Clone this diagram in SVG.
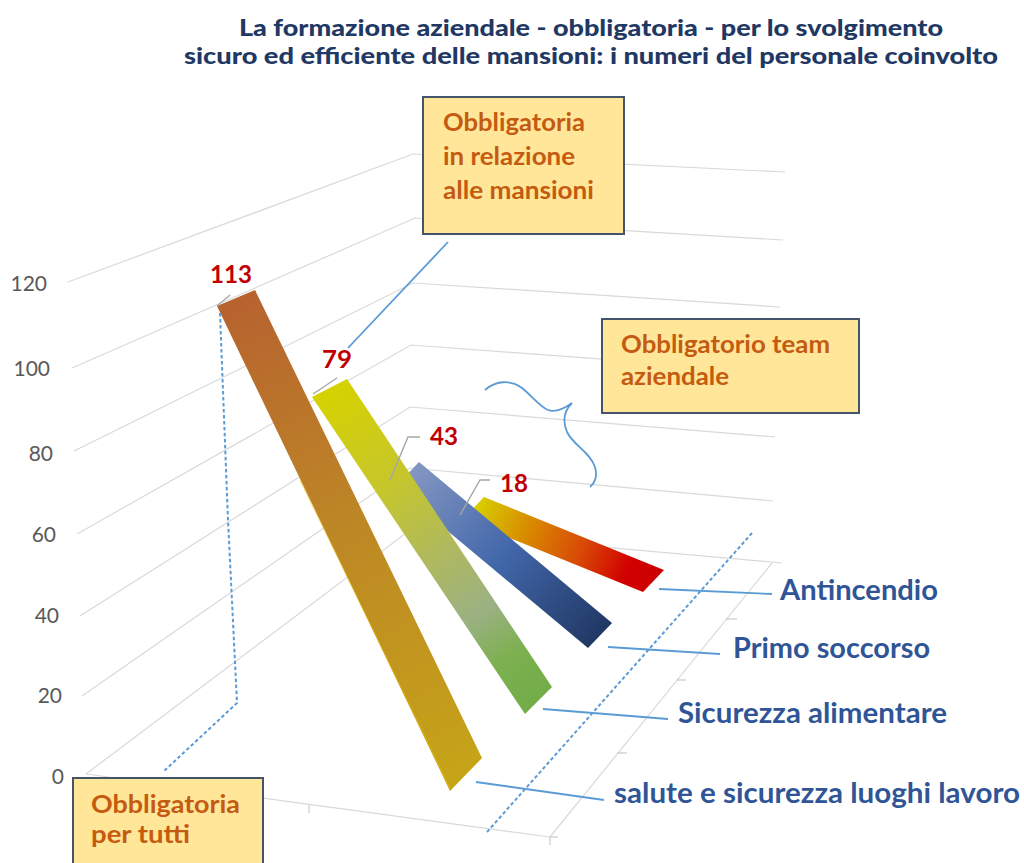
<svg xmlns="http://www.w3.org/2000/svg" width="1024" height="863" viewBox="0 0 1024 863">
<style>
.grid{fill:none;stroke:#D9D9D9;stroke-width:1.2}
.tick{stroke:#BFBFBF;stroke-width:1}
.ax{font-family:Lato,"Liberation Sans",sans-serif;font-size:21px;fill:#595959;text-anchor:end}
.title{font-family:Lato,"Liberation Sans",sans-serif;font-size:22px;font-weight:900;fill:#1F3864}
.cat{font-family:Lato,"Liberation Sans",sans-serif;font-size:28px;font-weight:bold;fill:#2F5597}
.val{font-family:Lato,"Liberation Sans",sans-serif;font-size:25px;font-weight:bold;fill:#C00000}
.box{fill:#FFE699;stroke:#44546A;stroke-width:2}
.boxt{font-family:Lato,"Liberation Sans",sans-serif;font-size:25px;font-weight:bold;fill:#C55A11}
.lead{fill:none;stroke:#5B9BD5;stroke-width:1.8}
.dot{fill:none;stroke:#5B9BD5;stroke-width:2;stroke-dasharray:3.5 2.5}
.gl{fill:none;stroke:#A6A6A6;stroke-width:1.4}
</style>
<defs>
<linearGradient id="gBrown" gradientUnits="userSpaceOnUse" x1="236" y1="298" x2="466" y2="774">
<stop offset="0" stop-color="#B7622F"/><stop offset="0.45" stop-color="#BD8526"/><stop offset="1" stop-color="#C6A418"/>
</linearGradient>
<linearGradient id="gGreen" gradientUnits="userSpaceOnUse" x1="330" y1="388" x2="538" y2="700">
<stop offset="0" stop-color="#D6D200"/><stop offset="0.3" stop-color="#C6C62C"/><stop offset="0.55" stop-color="#ADB862"/><stop offset="0.72" stop-color="#9BB183"/><stop offset="0.86" stop-color="#7DB050"/><stop offset="1" stop-color="#72AD48"/>
</linearGradient>
<linearGradient id="gBlue" gradientUnits="userSpaceOnUse" x1="407" y1="474" x2="600" y2="636">
<stop offset="0" stop-color="#8497C2"/><stop offset="0.5" stop-color="#4267AA"/><stop offset="1" stop-color="#203864"/>
</linearGradient>
<linearGradient id="gRed" gradientUnits="userSpaceOnUse" x1="474" y1="508" x2="654" y2="581">
<stop offset="0" stop-color="#D6D000"/><stop offset="0.3" stop-color="#D98A00"/><stop offset="0.6" stop-color="#D84808"/><stop offset="0.85" stop-color="#D20000"/><stop offset="1" stop-color="#CC0000"/>
</linearGradient>
</defs>
<rect width="1024" height="863" fill="#FFFFFF"/>

<g id="title">
<text class="title" x="239" y="36" textLength="704" lengthAdjust="spacingAndGlyphs">La formazione aziendale - obbligatoria - per lo svolgimento</text>
<text class="title" x="184" y="64" textLength="814" lengthAdjust="spacingAndGlyphs">sicuro ed efficiente delle mansioni: i numeri del personale coinvolto</text>
</g>

<g id="gridlines">
<polyline class="grid" points="68,282 413,154 785,172"/>
<polyline class="grid" points="72,368 415,218 783,240"/>
<polyline class="grid" points="74,451 413,283 780,307"/>
<polyline class="grid" points="77,534 411,345 777,372"/>
<polyline class="grid" points="80,616 410,407 775,437"/>
<polyline class="grid" points="82,696 410,468 773,501"/>
<polyline class="grid" points="86,774 410,530 782,563"/>
<polyline class="grid" points="86,774 550,837"/>
<polyline class="grid" points="772,563 550,837"/>
<line class="tick" x1="309" y1="805" x2="309" y2="813"/>
<line class="tick" x1="550" y1="837" x2="550" y2="845"/>
<line class="tick" x1="550" y1="837" x2="558" y2="837"/>
<line class="tick" x1="726" y1="619" x2="737" y2="619"/>
<line class="tick" x1="677" y1="680" x2="686" y2="680"/>
<line class="tick" x1="617" y1="753" x2="627" y2="753"/>
</g>

<g id="axis-labels">
<text class="ax" x="47" y="291">120</text>
<text class="ax" x="50" y="376">100</text>
<text class="ax" x="53" y="461">80</text>
<text class="ax" x="56" y="542">60</text>
<text class="ax" x="59" y="623">40</text>
<text class="ax" x="62" y="703">20</text>
<text class="ax" x="64" y="784">0</text>
</g>

<g id="bar-antincendio">
<polygon points="463,519 484,497 664,570 643,592" fill="url(#gRed)"/>
</g>
<g id="bar-primo-soccorso">
<polygon points="395,487 419,462 612,623 588,648" fill="url(#gBlue)"/>
</g>
<g id="bar-sicurezza-alimentare">
<polygon points="312,397 347,379 552,687 525,714" fill="url(#gGreen)"/>
</g>
<g id="bar-salute">
<polygon points="217,306 255,290 482,758 450,791" fill="url(#gBrown)"/>
<line x1="300" y1="480" x2="450" y2="788" stroke="#E8C000" stroke-width="1" opacity="0.6"/>
</g>

<g id="connectors">
<polyline class="gl" points="217,306 230,295"/>
<polyline class="gl" points="313,394 337,378"/>
<polyline class="gl" points="390,480 408,437 420,437"/>
<polyline class="gl" points="460,515 480,480 490,480"/>
<line class="lead" x1="448" y1="242" x2="348" y2="348"/>
<path class="lead" d="M485,390 C495,381 510,379 522,388 C532,396 540,407 548,410 C556,413 565,408 572,403 C565,410 562,420 567,432 C573,445 590,452 595,467 C598,477 594,484 590,487"/>
<polyline class="dot" points="220,313 228,520 237,703 163,772"/>
<line class="dot" x1="752" y1="533" x2="487" y2="832"/>
<line class="lead" x1="659" y1="589" x2="772" y2="594"/>
<line class="lead" x1="608" y1="647" x2="720" y2="654"/>
<line class="lead" x1="543" y1="709" x2="668" y2="719"/>
<line class="lead" x1="476" y1="782" x2="604" y2="800"/>
</g>

<g id="value-labels">
<text class="val" x="210" y="283" textLength="42" lengthAdjust="spacingAndGlyphs">113</text>
<text class="val" x="322" y="368" textLength="30" lengthAdjust="spacingAndGlyphs">79</text>
<text class="val" x="430" y="445" textLength="28" lengthAdjust="spacingAndGlyphs">43</text>
<text class="val" x="500" y="492" textLength="28" lengthAdjust="spacingAndGlyphs">18</text>
</g>

<g id="category-labels">
<text class="cat" x="780" y="600" textLength="158" lengthAdjust="spacingAndGlyphs">Antincendio</text>
<text class="cat" x="733" y="658" textLength="197" lengthAdjust="spacingAndGlyphs">Primo soccorso</text>
<text class="cat" x="678" y="723" textLength="269" lengthAdjust="spacingAndGlyphs">Sicurezza alimentare</text>
<text class="cat" x="614" y="803" textLength="406" lengthAdjust="spacingAndGlyphs">salute e sicurezza luoghi lavoro</text>
</g>

<g id="box-mansioni">
<rect class="box" x="423" y="97" width="201" height="137"/>
<text class="boxt" x="443" y="131" textLength="142" lengthAdjust="spacingAndGlyphs">Obbligatoria</text>
<text class="boxt" x="443" y="165" textLength="132" lengthAdjust="spacingAndGlyphs">in relazione</text>
<text class="boxt" x="443" y="199" textLength="151" lengthAdjust="spacingAndGlyphs">alle mansioni</text>
</g>

<g id="box-team">
<rect class="box" x="602" y="319" width="257" height="94"/>
<text class="boxt" x="621" y="353" textLength="209" lengthAdjust="spacingAndGlyphs">Obbligatorio team</text>
<text class="boxt" x="621" y="385" textLength="108" lengthAdjust="spacingAndGlyphs">aziendale</text>
</g>

<g id="box-tutti">
<rect class="box" x="73" y="778" width="190" height="100"/>
<text class="boxt" x="91" y="813" textLength="149" lengthAdjust="spacingAndGlyphs">Obbligatoria</text>
<text class="boxt" x="91" y="843" textLength="99" lengthAdjust="spacingAndGlyphs">per tutti</text>
</g>
</svg>
